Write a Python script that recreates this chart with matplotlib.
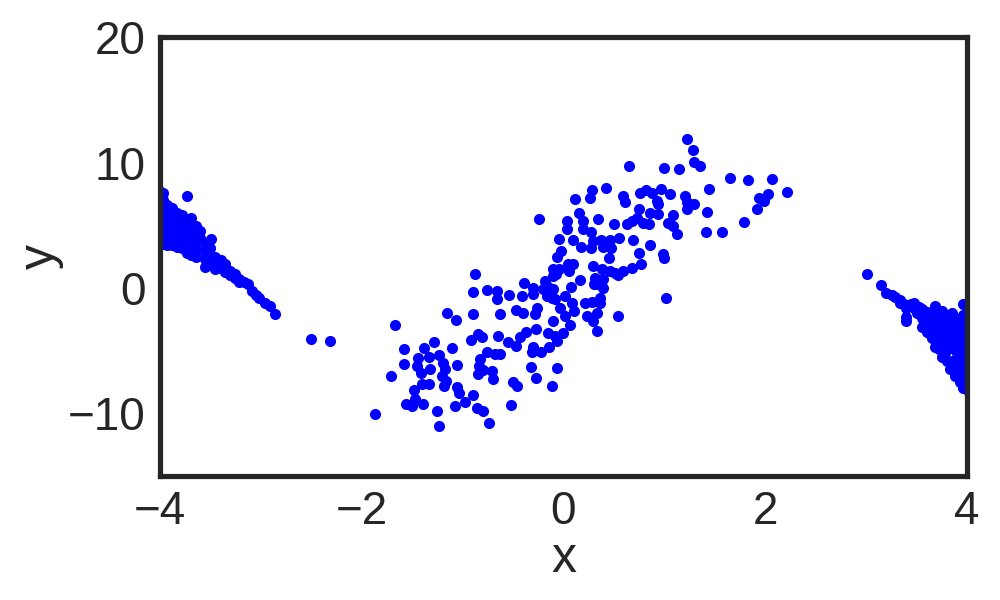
import matplotlib
matplotlib.use("Agg")
import matplotlib.pyplot as plt
import numpy as np

# ---- data (data units) ----
center_pts = [
    (-0.877, 1.08), (-0.894, -0.30), (-0.758, -0.18), (-1.152, -2.03), (-1.063, -2.54),
    (-0.894, -2.11), (-1.667, -2.93), (-2.500, -4.05), (-2.312, -4.27), (-0.917, -4.13),
    (-0.845, -3.68), (-0.811, -3.89), (-1.281, -4.32), (-1.584, -4.90), (-1.380, -4.82),
    (-1.102, -4.82), (-0.761, -5.12), (-1.439, -5.62), (-1.333, -5.54), (-1.231, -5.36),
    (-1.578, -6.04), (-1.452, -6.24), (-1.410, -6.76), (-1.323, -6.50), (-1.192, -5.96),
    (-1.175, -6.50), (-1.053, -6.18), (-0.828, -5.70), (-0.835, -6.24), (-0.845, -6.84),
    (-0.795, -6.58), (-1.707, -7.00), (-1.207, -7.03), (-1.168, -7.43), (-1.185, -7.83),
    (-1.406, -7.70), (-1.330, -7.70), (-1.482, -8.17), (-1.059, -7.91), (-1.033, -8.36),
    (-0.894, -8.57), (-1.472, -8.84), (-1.561, -9.31), (-1.505, -9.43), (-1.390, -9.31),
    (-1.076, -9.45), (-0.976, -9.11), (-0.860, -9.55), (-0.795, -9.85), (-1.251, -9.79),
    (-1.866, -10.09), (-1.231, -11.04), (-0.739, -10.75),
    (-0.659, -0.28), (-0.659, -0.92), (-0.540, -0.60), (-0.629, -2.11), (-0.471, -1.79),
    (-0.649, -3.87), (-0.550, -4.35), (-0.471, -4.67), (-0.431, -3.95), (-0.372, -3.55),
    (-0.273, -3.31), (-0.154, -3.63), (-0.084, -3.87), (-0.005, -3.63), (-0.064, -4.27),
    (-0.144, -4.74), (-0.223, -5.14), (-0.302, -4.74), (-0.312, -5.14), (-0.679, -5.30),
    (-0.629, -5.30), (-0.709, -6.66), (-0.699, -7.30), (-0.501, -7.54), (-0.461, -7.85),
    (-0.322, -6.34), (-0.273, -7.22), (-0.064, -6.42), (-0.114, -7.85), (-0.520, -9.37),
    (0.418, 7.99), (0.280, 7.80), (0.263, 7.14), (0.114, 7.06), (0.157, 6.00),
    (0.345, 5.52), (-0.240, 5.52), (0.032, 5.33), (0.038, 4.72), (0.196, 5.33),
    (0.196, 4.72), (0.273, 4.45), (0.289, 3.73), (0.273, 3.21), (0.504, 5.06),
    (-0.042, 3.92), (0.097, 3.81), (0.173, 3.29), (0.372, 3.81), (0.389, 3.29),
    (0.461, 3.81), (0.471, 3.15), (0.553, 4.00), (-0.028, 2.93), (-0.061, 2.49),
    (0.454, 2.41), (0.765, 1.93), (0.682, 1.61), (0.996, 2.41), (0.042, 1.87),
    (0.097, 1.87), (0.057, 1.34), (0.295, 1.74), (0.379, 1.48), (0.461, 1.34),
    (0.543, 1.00), (0.587, 1.34), (0.511, 1.21), (-0.101, 1.48), (-0.042, 1.53),
    (-0.107, 0.94), (-0.074, 1.08), (-0.183, 0.54), (-0.151, 0.10), (0.164, 0.60),
    (0.312, 0.81), (0.395, 0.68), (0.329, 0.28), (0.302, 0.28), (0.395, 0.02),
    (-0.392, 0.36), (-0.299, 0.02), (-0.299, -0.52), (-0.414, -0.65), (-0.200, -0.12),
    (-0.101, -0.12), (-0.117, -0.78), (-0.167, -0.65), (-0.084, -0.92), (0.074, 0.06),
    (0.015, -0.65), (0.081, -1.18), (0.104, -1.85), (0.213, -1.18), (0.280, -1.13),
    (0.362, -0.78), (0.362, -1.18), (1.016, -0.84), (-0.266, -1.58), (-0.283, -2.11),
    (-0.035, -1.58), (0.015, -2.25), (0.329, -1.98), (0.230, -2.25), (0.537, -2.25),
    (-0.399, -1.98), (-0.104, -2.67), (0.064, -2.99), (0.295, -2.65), (0.329, -3.44),
    (1.227, 11.84), (1.287, 11.02), (1.297, 10.03), (1.353, 9.74), (0.652, 9.74),
    (0.999, 9.59), (1.148, 9.45), (1.651, 8.73), (1.832, 8.57), (2.067, 8.65),
    (2.219, 7.67), (1.445, 7.91), (0.970, 7.91), (0.758, 7.59), (0.818, 7.80),
    (0.874, 7.54), (0.593, 7.32), (0.610, 6.87), (1.056, 7.46), (1.204, 7.32),
    (1.221, 6.87), (1.294, 6.71), (1.221, 6.26), (0.930, 6.92), (0.940, 6.66),
    (2.030, 7.51), (1.941, 7.14), (1.988, 6.92), (1.921, 6.26), (1.426, 6.08),
    (0.751, 6.26), (0.858, 6.00), (0.940, 5.86), (1.083, 5.81), (0.726, 5.60),
    (0.676, 5.33), (0.627, 5.06), (0.791, 5.20), (0.851, 5.06), (1.039, 5.20),
    (1.088, 4.93), (1.122, 4.27), (1.792, 5.28), (1.413, 4.48), (1.568, 4.48),
    (0.692, 3.79), (0.858, 3.39), (0.751, 2.81), (0.989, 2.67),
]

left_pts = [
    (-4.02, 7.9), (-4.02, 7.3), (-4.02, 6.8), (-4.02, 6.3), (-4.02, 5.8), (-4.02, 5.3),
    (-4.02, 4.8), (-4.02, 4.3), (-4.02, 3.8), (-4.02, 3.5),
    (-3.97, 7.6), (-3.97, 7.0), (-3.97, 6.4), (-3.97, 6.0), (-3.97, 5.5), (-3.97, 5.0),
    (-3.97, 4.5), (-3.97, 4.0), (-3.97, 3.5),
    (-3.93, 6.6), (-3.93, 6.2), (-3.93, 5.7), (-3.93, 5.2), (-3.93, 4.7), (-3.93, 4.2),
    (-3.93, 3.7), (-3.93, 3.4),
    (-3.88, 6.4), (-3.88, 5.9), (-3.88, 5.4), (-3.88, 4.9), (-3.88, 4.4), (-3.88, 3.9),
    (-3.88, 3.4),
    (-3.83, 6.0), (-3.83, 5.5), (-3.83, 5.0), (-3.83, 4.5), (-3.83, 4.0), (-3.83, 3.5),
    (-3.83, 3.25),
    (-3.78, 5.8), (-3.78, 5.3), (-3.78, 4.7), (-3.78, 4.2), (-3.78, 3.7), (-3.78, 3.2),
    (-3.73, 7.3), (-3.73, 5.5), (-3.73, 5.0), (-3.73, 4.5), (-3.73, 3.9), (-3.73, 3.4),
    (-3.73, 2.8),
    (-3.69, 5.6), (-3.69, 4.6), (-3.69, 4.0), (-3.69, 3.3), (-3.69, 2.6),
    (-3.64, 4.9), (-3.64, 4.3), (-3.64, 3.7), (-3.64, 3.1), (-3.64, 2.5),
    (-3.60, 4.5), (-3.60, 4.0),
    (-3.55, 3.6), (-3.55, 2.9), (-3.55, 2.3), (-3.55, 1.7),
    (-3.49, 3.9), (-3.50, 3.2), (-3.50, 2.6), (-3.50, 2.0),
    (-3.45, 2.5), (-3.45, 1.9), (-3.45, 1.5),
    (-3.40, 2.2), (-3.40, 1.6), (-3.36, 1.87), (-3.36, 1.3),
    (-3.31, 1.34), (-3.31, 1.0), (-3.26, 1.1), (-3.26, 0.8),
    (-3.22, 0.68), (-3.22, 0.45), (-3.17, 0.5), (-3.13, 0.28),
    (-3.09, -0.26), (-3.05, -0.55), (-3.02, -0.78), (-2.96, -1.18),
    (-2.91, -1.45), (-2.86, -2.11),
]

right_pts = [
    (3.01, 1.08), (3.15, 0.20), (3.20, -0.38), (3.26, -0.55), (3.29, -0.70),
    (3.34, -1.00), (3.34, -1.18), (3.38, -1.30), (3.40, -1.60), (3.40, -2.30),
    (3.40, -2.65), (3.44, -1.32), (3.47, -1.18), (3.47, -1.60), (3.50, -2.00),
    (3.52, -1.50), (3.55, -1.71), (3.55, -2.40), (3.58, -2.90), (3.60, -1.90),
    (3.62, -2.50), (3.65, -3.20), (3.68, -1.45), (3.68, -2.20), (3.70, -3.00),
    (3.70, -3.80), (3.68, -4.69), (3.72, -4.20), (3.75, -1.85), (3.75, -2.60),
    (3.75, -3.40), (3.78, -4.40), (3.78, -5.20), (3.75, -5.49), (3.80, -2.20),
    (3.82, -3.00), (3.82, -3.80), (3.83, -4.80), (3.83, -6.50), (3.85, -5.80),
    (3.87, -2.70), (3.87, -3.60), (3.88, -4.30), (3.90, -5.20), (3.90, -2.46),
    (3.90, -6.90), (3.92, -6.20), (3.93, -3.20), (3.93, -4.00), (3.95, -4.80),
    (3.95, -5.60), (3.96, -1.32), (3.97, -2.60), (3.97, -3.05), (3.98, -6.60),
    (4.00, -7.83), (3.98, -7.20), (4.00, -3.60), (4.00, -4.40), (4.00, -5.20),
    (4.00, -6.00), (4.02, -1.10), (4.02, -1.90), (4.02, -2.60), (4.02, -8.30),
    (4.01, -7.00),
    (3.60, -3.50), (3.65, -4.00), (3.72, -4.90), (3.80, -5.80), (3.85, -6.30),
    (3.88, -7.00), (3.93, -7.50), (3.96, -8.00), (3.55, -3.10), (3.62, -3.60),
    (3.78, -3.60), (3.85, -4.40), (3.92, -5.00), (3.96, -3.80), (3.90, -3.00),
    (3.96, -2.20), (3.85, -2.00), (3.72, -2.70), (3.66, -2.00), (3.58, -2.20),
]

x_ticks = [-4, -2, 0, 2, 4]
y_ticks = [-10, 0, 10, 20]
x_label = "x"
y_label = "y"

# ---- style ----
plt.rcParams['font.family'] = ['Liberation Sans', 'DejaVu Sans']
text_color = '#262626'

fig = plt.figure(figsize=(5, 3), dpi=200)
ax = fig.add_axes([0.16, 0.207, 0.807, 0.731])

pts = np.array(center_pts + left_pts + right_pts)
ax.scatter(pts[:, 0], pts[:, 1], s=16, c='#0000ff', linewidths=0)

ax.set_xlim(-4, 4)
ax.set_ylim(-15, 20)
ax.set_xticks(x_ticks)
ax.set_yticks(y_ticks)
ax.tick_params(axis='both', length=0, pad=5.25, labelsize=16.5, colors=text_color)
ax.set_xlabel(x_label, fontsize=18, color=text_color, labelpad=0.5)
ax.set_ylabel(y_label, fontsize=18, color=text_color, labelpad=1.5)
for sp in ax.spines.values():
    sp.set_linewidth(1.875)
    sp.set_color(text_color)

fig.savefig("out.png", dpi=200)
